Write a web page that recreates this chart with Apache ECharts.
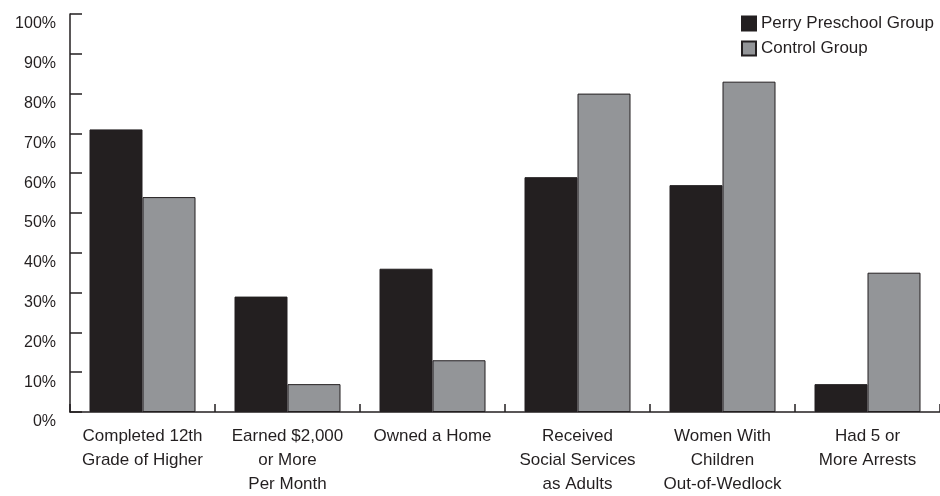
<!DOCTYPE html>
<html>
<head>
<meta charset="utf-8">
<script src="https://cdn.jsdelivr.net/npm/echarts@6/dist/echarts.min.js"></script>
<style>html,body{margin:0;padding:0;background:#fff;}#c{width:940px;height:496px;}</style>
</head>
<body>
<div id="c"></div>
<script>
var categories = [
  "Completed 12th\nGrade of Higher",
  "Earned $2,000\nor More\nPer Month",
  "Owned a Home",
  "Received\nSocial Services\nas Adults",
  "Women With\nChildren\nOut-of-Wedlock",
  "Had 5 or\nMore Arrests"
];
var perryValues = [71, 29, 36, 59, 57, 7];
var controlValues = [54, 7, 13, 80, 83, 35];
var seriesNames = ["Perry Preschool Group", "Control Group"];

var ink = '#231f20';
var ff = 'Liberation Sans, Arial, sans-serif';
var chart = echarts.init(document.getElementById('c'), null, {renderer: 'canvas'});
chart.setOption({
  animation: false,
  backgroundColor: '#fff',
  textStyle: {fontFamily: ff},
  grid: {left: 70, top: 14, bottom: 82, width: 870, containLabel: false},
  legend: {
    orient: 'vertical', left: 741, top: 15, padding: 0,
    itemWidth: 14, itemHeight: 14, itemGap: 8,
    icon: 'rect',
    textStyle: {fontSize: 17, color: ink, fontFamily: ff},
    data: seriesNames
  },
  xAxis: {
    type: 'category',
    data: categories,
    axisLine: {lineStyle: {color: ink, width: 1.5}},
    axisTick: {show: true, inside: true, length: 8, lineStyle: {color: ink, width: 1.5}},
    axisLabel: {fontSize: 17, color: ink, lineHeight: 24, margin: 12, interval: 0, fontFamily: ff}
  },
  yAxis: {
    type: 'value', min: 0, max: 100, interval: 10,
    axisLine: {show: true, lineStyle: {color: ink, width: 1.5}},
    axisTick: {show: true, inside: true, length: 12, lineStyle: {color: ink, width: 1.5}},
    splitLine: {show: false},
    axisLabel: {fontSize: 16, color: ink, margin: 14, verticalAlign: 'top', lineHeight: 20,
      fontFamily: ff,
      formatter: function(v){ return v + '%'; }}
  },
  series: [
    {name: seriesNames[0], type: 'bar', data: perryValues, barWidth: 53, barGap: '0%',
     itemStyle: {color: ink, borderColor: ink, borderWidth: 1}},
    {name: seriesNames[1], type: 'bar', data: controlValues, barWidth: 53, barGap: '0%',
     itemStyle: {color: '#939598', borderColor: ink, borderWidth: 1}}
  ]
});
</script>
</body>
</html>
